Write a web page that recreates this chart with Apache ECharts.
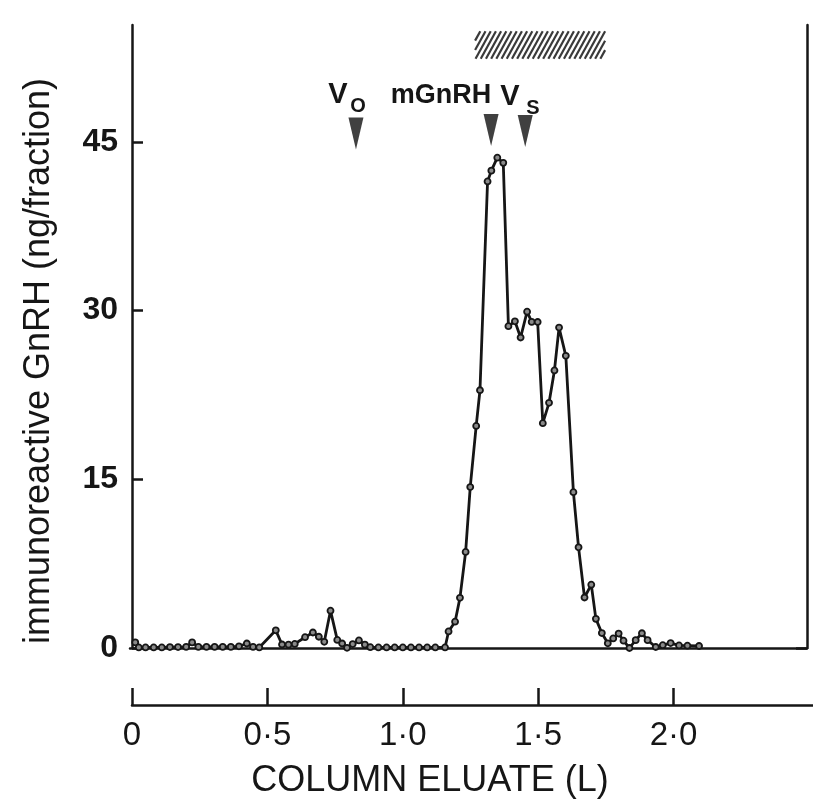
<!DOCTYPE html>
<html>
<head>
<meta charset="utf-8">
<title>Immunoreactive GnRH elution profile</title>
<script src="https://cdn.jsdelivr.net/npm/echarts@6/dist/echarts.min.js"></script>
<style>
  html, body { margin: 0; padding: 0; background: #ffffff; }
  #chart { width: 813px; height: 801px; }
</style>
</head>
<body>
<div id="chart"></div>
<script>
// Column eluate volume (L) for each collected fraction
const eluate = [
  0.012, 0.025, 0.05, 0.08, 0.11, 0.14, 0.17, 0.20, 0.222, 0.245,
  0.275, 0.305, 0.335, 0.365, 0.395, 0.424, 0.447, 0.47, 0.531, 0.554,
  0.578, 0.601, 0.639, 0.668, 0.69, 0.710, 0.733, 0.758, 0.776, 0.794,
  0.815, 0.838, 0.860, 0.880, 0.91, 0.94, 0.97, 1.00, 1.03, 1.06,
  1.09, 1.12, 1.156, 1.169, 1.193, 1.211, 1.232, 1.249, 1.271, 1.285,
  1.313, 1.327, 1.349, 1.371, 1.390, 1.414, 1.435, 1.459, 1.476, 1.498,
  1.517, 1.540, 1.560, 1.577, 1.602, 1.630, 1.649, 1.671, 1.696, 1.713,
  1.735, 1.757, 1.777, 1.797, 1.815, 1.837, 1.860, 1.883, 1.904, 1.934,
  1.96, 1.989, 2.020, 2.051, 2.094
];
// Immunoreactive GnRH (ng/fraction)
const gnrh = [
  0.5, 0.05, 0.05, 0.05, 0.05, 0.08, 0.08, 0.1, 0.5, 0.1,
  0.1, 0.1, 0.1, 0.1, 0.15, 0.4, 0.1, 0.05, 1.57, 0.31,
  0.3, 0.36, 0.96, 1.38, 1.0, 0.55, 3.32, 0.72, 0.4, 0.02,
  0.35, 0.67, 0.3, 0.07, 0.05, 0.05, 0.05, 0.05, 0.05, 0.05,
  0.05, 0.05, 0.05, 1.47, 2.34, 4.46, 8.54, 14.31, 19.75, 22.92,
  41.49, 42.45, 43.6, 43.14, 28.62, 29.05, 27.61, 29.91, 29.0, 28.99,
  19.99, 21.8, 24.68, 28.49, 25.98, 13.86, 8.95, 4.49, 5.63, 2.59,
  1.33, 0.42, 0.85, 1.28, 0.65, 0.0, 0.7, 1.31, 0.7, 0.09,
  0.25, 0.44, 0.23, 0.21, 0.18
];

// Reference volumes marked by arrows: Vo, mGnRH standard, Vs
const markerVolumes = [0.827, 1.326, 1.452];
const markerLevels = [45.75, 46.06, 45.97];

// Pooled fractions shown by the hatched bar: [from L, to L, lower, upper]
const pooledRange = [1.267, 1.747];
const pooledBand = [52.4, 54.85];

// Axis ticks
const yTicks = [0, 15, 30, 45];
const xTicks = [0, 0.5, 1.0, 1.5, 2.0];

const INK = '#161616';
const FONT = '"Liberation Sans", Arial, Helvetica, sans-serif';

const curve = eluate.map((v, i) => [v, gnrh[i]]);
const arrows = markerVolumes.map((v, i) => [v, markerLevels[i]]);

// Hatched band drawn from its data extent, diagonal strokes clipped to the box
function hatchBar(params, api) {
  const tl = api.coord([api.value(0), api.value(3)]);
  const br = api.coord([api.value(1), api.value(2)]);
  const L = tl[0], T = tl[1], R = br[0], B = br[1];
  const h = B - T;
  const slant = h * 0.55;
  const step = 5.2;
  const children = [];
  for (let x0 = L - slant; x0 < R; x0 += step) {
    let xa = x0, ya = B, xb = x0 + slant, yb = T;
    if (xa < L) { const t = (L - xa) / slant; xa = L; ya = B - t * h; }
    if (xb > R) { const s = (xb - R) / slant; xb = R; yb = T + s * h; }
    if (xb <= xa) continue;
    children.push({
      type: 'line',
      shape: { x1: xa, y1: ya, x2: xb, y2: yb },
      style: { stroke: '#3a3a3a', lineWidth: 2.2 }
    });
  }
  return { type: 'group', children };
}

const fmtVolume = v => (v === 0 ? '0' : v.toFixed(1).replace('.', '\u00B7'));

const chart = echarts.init(document.getElementById('chart'), null, { renderer: 'canvas' });

chart.setOption({
  animation: false,
  backgroundColor: '#ffffff',
  grid: [
    { left: 130, right: 6, top: 25, bottom: 153 },
    { left: 132, right: 0, top: 650, bottom: 96 }
  ],
  xAxis: [
    {
      gridIndex: 0, type: 'value', position: 'top',
      min: -0.0074, max: 2.4926,
      axisLine: { show: true, lineStyle: { color: INK, width: 2.5 } },
      axisTick: { show: false }, axisLabel: { show: false },
      splitLine: { show: false }
    },
    {
      gridIndex: 1, type: 'value', position: 'bottom',
      min: 0, max: 2.515, interval: 0.5,
      axisLine: { show: true, lineStyle: { color: INK, width: 2.5 } },
      axisTick: { show: true, inside: true, length: 17, customValues: xTicks,
                  lineStyle: { color: INK, width: 2.5 } },
      axisLabel: { show: true, customValues: xTicks, formatter: fmtVolume,
                   margin: 14, color: INK, fontSize: 33, fontFamily: FONT },
      splitLine: { show: false }
    }
  ],
  yAxis: [
    {
      gridIndex: 0, type: 'value', position: 'left',
      min: 0, max: 55.4, interval: 15,
      axisLine: { show: true, lineStyle: { color: INK, width: 2.5 } },
      axisTick: { show: true, inside: true, length: 11, customValues: yTicks,
                  lineStyle: { color: INK, width: 2.5 } },
      axisLabel: { show: true, customValues: yTicks, margin: 12, color: INK,
                   fontSize: 32, fontWeight: 'bold', fontFamily: FONT },
      splitLine: { show: false }
    },
    {
      gridIndex: 0, type: 'value', position: 'right',
      min: 0, max: 55.4,
      axisLine: { show: true, lineStyle: { color: INK, width: 2.5 } },
      axisTick: { show: true, inside: true, length: 11, customValues: [0],
                  lineStyle: { color: INK, width: 2.5 } },
      axisLabel: { show: false },
      splitLine: { show: false }
    },
    { gridIndex: 1, type: 'value', show: false, min: 0, max: 1 }
  ],
  series: [
    {
      name: 'immunoreactive GnRH',
      type: 'line',
      xAxisIndex: 0, yAxisIndex: 0,
      data: curve,
      symbol: 'circle', symbolSize: 6, showAllSymbol: true,
      lineStyle: { color: INK, width: 2.8 },
      itemStyle: { color: '#8a8a8a', borderColor: INK, borderWidth: 1.8 },
      z: 3
    },
    {
      name: 'reference volumes',
      type: 'scatter',
      xAxisIndex: 0, yAxisIndex: 0,
      data: arrows,
      symbol: 'triangle', symbolRotate: 180, symbolSize: [15, 32],
      itemStyle: { color: '#101010' },
      z: 4
    },
    {
      name: 'pooled fractions',
      type: 'custom',
      xAxisIndex: 0, yAxisIndex: 0,
      renderItem: hatchBar,
      encode: { x: [0, 1], y: [2, 3] },
      data: [[pooledRange[0], pooledRange[1], pooledBand[0], pooledBand[1]]],
      clip: false,
      z: 2
    }
  ],
  graphic: [
    {
      type: 'text', x: 39, y: 361, rotation: Math.PI / 2,
      style: { text: 'immunoreactive GnRH (ng/fraction)', fill: INK,
               font: '36px ' + FONT, align: 'center', verticalAlign: 'middle' }
    },
    {
      type: 'text', x: 430, y: 781,
      style: { text: 'COLUMN ELUATE (L)', fill: INK,
               font: '36px ' + FONT, align: 'center', verticalAlign: 'middle' }
    },
    {
      type: 'text', x: 338, y: 95,
      style: { text: 'V', fill: INK, font: 'bold 29px ' + FONT,
               align: 'center', verticalAlign: 'middle' }
    },
    {
      type: 'text', x: 358, y: 106,
      style: { text: 'O', fill: INK, font: 'bold 20px ' + FONT,
               align: 'center', verticalAlign: 'middle' }
    },
    {
      type: 'text', x: 441, y: 96,
      style: { text: 'mGnRH', fill: INK, font: 'bold 27px ' + FONT,
               align: 'center', verticalAlign: 'middle' }
    },
    {
      type: 'text', x: 510, y: 97,
      style: { text: 'V', fill: INK, font: 'bold 29px ' + FONT,
               align: 'center', verticalAlign: 'middle' }
    },
    {
      type: 'text', x: 533, y: 108,
      style: { text: 'S', fill: INK, font: 'bold 20px ' + FONT,
               align: 'center', verticalAlign: 'middle' }
    }
  ]
});
</script>
</body>
</html>
